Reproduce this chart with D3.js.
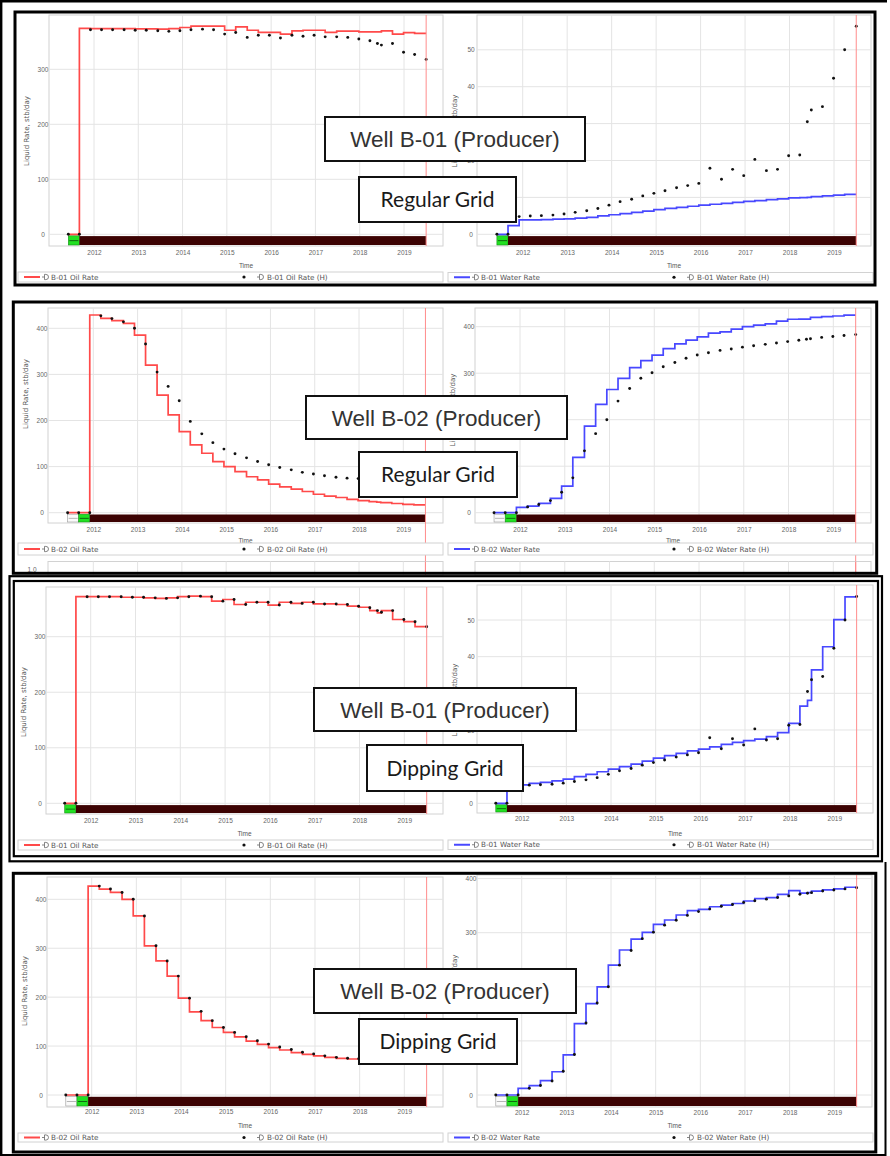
<!DOCTYPE html>
<html><head><meta charset="utf-8">
<script src="https://cdn.jsdelivr.net/npm/d3@7"></script>
<style>body{margin:0;background:#fff}svg{display:block}</style>
</head><body>
<svg id="c" width="890" height="1156"></svg>
<script>
// ---------------- DATA ----------------
// report times (decimal years), quarterly, with one extra history date in 2018
const T = [2011.42, 2011.67, 2011.92, 2012.17, 2012.42, 2012.68, 2012.93, 2013.18, 2013.44, 2013.69,
  2013.94, 2014.19, 2014.45, 2014.70, 2014.95, 2015.20, 2015.46, 2015.71, 2015.96, 2016.21,
  2016.47, 2016.72, 2016.97, 2017.22, 2017.48, 2017.73, 2017.98, 2018.23, 2018.40, 2018.49,
  2018.74, 2018.99, 2019.24, 2019.50];
const years = [2012, 2013, 2014, 2015, 2016, 2017, 2018, 2019];

// Well B-01
const oilH1   = [0,0,372,372,372,372,371,371,370,369,370,372,373,372,364,367,358,362,362,357,362,360,362,359,359,358,355,352,347,344,347,331,327,318];
const oilReg1 = [0,0,374.5,374,374,374,374,373.5,373.5,373,374,376,378.5,378.5,378.5,371,377,371,367,367,364,370,371,371,367,369.5,369.5,368,368,368,370,364,366.5,365.5];
const oilDip1 = [0,0,372,372,372,372,371,371,370,369,370,372,373,372,364,367,358,362,362,357,362,360,362,359,359,358,355,353,347,343,347,331,327,318];
const watH1   = [0,0,4.8,4.95,5.05,5.2,5.5,5.95,6.4,7.0,7.9,8.85,9.5,10.4,11.1,11.8,12.6,13.2,13.8,17.9,14.9,17.6,15.9,20.3,17.25,17.6,21.3,21.5,30.5,33.7,34.6,42.3,50.0,56.4];
const watReg1 = [0,0,2.34,3.9,3.9,4.0,4.1,4.2,4.4,4.6,5.0,5.3,5.6,5.95,6.3,6.7,7.0,7.3,7.6,7.9,8.15,8.4,8.65,8.9,9.15,9.4,9.6,9.85,9.95,10.0,10.2,10.4,10.6,10.8];
const watDip1 = [0,0,5.0,5.0,5.45,5.7,6.1,6.6,7.3,7.9,8.6,9.3,10.0,10.7,11.5,12.3,13.0,13.6,14.3,14.8,15.4,16.1,16.6,17.1,17.5,18.2,19.3,21.8,26.5,28.1,36.4,42.7,50.1,56.3];

// Well B-02
const oilH2   = [0,0,0,427,421,414,400,366,305,274,243,198,171,152,138,128,119,111,104,98,93,87.5,84,80,77,75,74,73,72.5,72,71,70,69,68];
const oilReg2 = [0,0,0,428.8,421.5,416.5,410.7,385,320,255,212,176,147,129,111,100,89,78,71,62,56,51,46,40,36,33,29,26,24,23,22,20,18,17];
const oilDip2 = [0,0,0,427,421,414,400,366,305,274,243,198,170,152,138,128,119,110,103.5,97,92,86.5,83,80,77,75,73.6,73,72,71,70,69,68,67];
const watH2   = [0,0,0,12.5,17.5,26,44,75,133,170,200,240,267,289,301,314,323,332,339,344,349,352,356,359,362,365,368,371,373,374,377,379,381,383];
const watReg2 = [0,0,0,11.5,14.3,20,30.8,57,119,186,233,265,289,312,327,339,353,363,371,378,386,389,395,400,403.6,406,412,416,416.5,416.5,420,421.5,423,425];
const watDip2 = [0,0,0,12.3,17.3,26.5,43,74,132,169,200,240,268,288,300.7,315.5,323.5,332.7,340.7,343,348,351,354,358.6,363,365,371,377.7,373,374,377,379,381,384];

const oilTicks = [0, 100, 200, 300];
const oilTicks4 = [0, 100, 200, 300, 400];
const watTicks1 = [0, 10, 20, 30, 40, 50];

const wellTitles = ['Well B-01 (Producer)', 'Well B-02 (Producer)', 'Well B-01 (Producer)', 'Well B-02 (Producer)'];
const gridTitles = ['Regular Grid', 'Regular Grid', 'Dipping Grid', 'Dipping Grid'];
const yTitle = 'Liquid Rate, stb/day';
const yTitleHead = 'Li', yTitleTail = 'stb/day';

// ---------------- LAYOUT ----------------
const layouts = [
  {plot:[49,15,443,246],   xr:[94,404],     yc:[0,234.3,300,69.3],  tickY:253,   timeY:265.5, leg:[18,272,443,282],    titleY:131},
  {plot:[477,15,871,246],  xr:[522.7,834],  yc:[0,234.3,50,49.8],   tickY:252.5, timeY:265.5, leg:[448,272.5,873,282], titleY:131, head:true},
  {plot:[48,308,443,523],  xr:[93.3,403.3], yc:[0,512.7,400,328.3], tickY:530,   timeY:540.7, leg:[18,543,443,555],    titleY:394},
  {plot:[475,308,871,523], xr:[520,833.3],  yc:[0,512.7,400,326.7], tickY:530,   timeY:540.7, leg:[448,543,873,555],   titleY:410, head:true},
  {plot:[46,587,443,814],  xr:[90.7,404.3], yc:[0,803.3,300,636.7], tickY:821,   timeY:833.3, leg:[18,840,443,850],    titleY:702},
  {plot:[477,585,873,813], xr:[521.7,834.3],yc:[0,803.3,50,620],    tickY:819,   timeY:833.3, leg:[448,840,873,849.5], titleY:700, head:true},
  {plot:[47,877,443,1107], xr:[91.7,404.3], yc:[0,1095,400,899.3],  tickY:1112,  timeY:1125.7,leg:[18,1133,443,1142],   titleY:991},
  {plot:[477,875,872,1107],xr:[521.7,834.3],yc:[0,1095,300,932.7],  tickY:1112.3,timeY:1125.7,leg:[448,1133,873,1142],  titleY:991, head:false}
];
const RED = '#ff4a4a', BLUE = '#4848ff';
const charts = [
  {L:layouts[0], sim:oilReg1, hist:oilH1, ticks:oilTicks,  color:RED,  name:'B-01 Oil Rate',   start:1, right:false},
  {L:layouts[1], sim:watReg1, hist:watH1, ticks:watTicks1, color:BLUE, name:'B-01 Water Rate', start:1, right:true},
  {L:layouts[2], sim:oilReg2, hist:oilH2, ticks:oilTicks4, color:RED,  name:'B-02 Oil Rate',   start:2, right:false, peek:true},
  {L:layouts[3], sim:watReg2, hist:watH2, ticks:oilTicks4, color:BLUE, name:'B-02 Water Rate', start:2, right:true, peek:true},
  {L:layouts[4], sim:oilDip1, hist:oilH1, ticks:oilTicks,  color:RED,  name:'B-01 Oil Rate',   start:1, right:false},
  {L:layouts[5], sim:watDip1, hist:watH1, ticks:watTicks1, color:BLUE, name:'B-01 Water Rate', start:1, right:true},
  {L:layouts[6], sim:oilDip2, hist:oilH2, ticks:oilTicks4, color:RED,  name:'B-02 Oil Rate',   start:2, right:false},
  {L:layouts[7], sim:watDip2, hist:watH2, ticks:oilTicks4, color:BLUE, name:'B-02 Water Rate', start:2, right:true}
];
const noteBoxes = [
  {w:[325,117,260,44], s:[359,177,157,45]},
  {w:[306,396,261,43], s:[359,452,158,45]},
  {w:[314,688,262,43], s:[367,745,156,46]},
  {w:[314,969,262,44], s:[359,1019,158,45]}
];
const allBoxes = noteBoxes.flatMap(b => [b.w, b.s]);
function hiddenByBox(px, py) {
  return allBoxes.some(r => px > r[0] && px < r[0]+r[2] && py > r[1]+2 && py < r[1]+r[3]-2);
}

const FONT = 'Liberation Sans, Arial, sans-serif';
const FONT2 = 'DejaVu Sans, Verdana, sans-serif';
const svg = d3.select('#c');
const defs = svg.append('defs');
svg.append('rect').attr('width',890).attr('height',1156).attr('fill','#fff');

function icon(g, ix, cy) {
  g.append('line').attr('x1',ix).attr('x2',ix+2.5).attr('y1',cy).attr('y2',cy).attr('stroke','#666').attr('stroke-width',0.8);
  g.append('path').attr('d',`M${ix+2.5},${cy-2.6}h1.4a2.6,2.6 0 0 1 0,5.2h-1.4z`).attr('fill','none').attr('stroke','#666').attr('stroke-width',0.8);
}

charts.forEach((c, i) => {
  const L = c.L;
  const [px0, py0, px1, py1] = L.plot;
  const x = d3.scaleLinear().domain([2012, 2019]).range(L.xr);
  const y = d3.scaleLinear().domain([L.yc[0], L.yc[2]]).range([L.yc[1], L.yc[3]]);
  const g = svg.append('g');
  defs.append('clipPath').attr('id','cl'+i).append('rect')
    .attr('x',px0).attr('y',py0).attr('width',px1-px0).attr('height',py1-py0);

  g.append('rect').attr('x',px0).attr('y',py0).attr('width',px1-px0).attr('height',py1-py0)
    .attr('fill','#fff').attr('stroke','#d2d2d2').attr('stroke-width',1);
  g.append('g').selectAll('line').data(years).join('line')
    .attr('x1',d=>x(d)).attr('x2',d=>x(d)).attr('y1',py0).attr('y2',py1)
    .attr('stroke','#e4e4e4').attr('stroke-width',1);
  g.append('g').selectAll('line').data(c.ticks).join('line')
    .attr('x1',px0).attr('x2',px1).attr('y1',d=>y(d)).attr('y2',d=>y(d))
    .attr('stroke','#e4e4e4').attr('stroke-width',1);

  const pg = g.append('g').attr('clip-path',`url(#cl${i})`);
  const y0 = y(0);
  const tEnd = T[T.length-1];
  if (c.start === 2) {
    pg.append('rect').attr('x',x(T[0])).attr('y',y0+1.5).attr('width',x(T[1])-x(T[0])).attr('height',py1-y0-2.5)
      .attr('fill','#fafafa').attr('stroke','#999').attr('stroke-width',0.6);
    pg.append('line').attr('x1',x(T[0])+1).attr('x2',x(T[1])-1).attr('y1',(y0+py1)/2+0.5).attr('y2',(y0+py1)/2+0.5)
      .attr('stroke','#888').attr('stroke-width',0.6);
  }
  pg.append('rect').attr('x',x(T[c.start-1])).attr('y',y0+1.5).attr('width',x(T[c.start])-x(T[c.start-1])).attr('height',py1-y0-2.5)
    .attr('fill','#22e022').attr('stroke','#159015').attr('stroke-width',0.6);
  pg.append('line').attr('x1',x(T[c.start-1])+1).attr('x2',x(T[c.start])-1).attr('y1',(y0+py1)/2+0.5).attr('y2',(y0+py1)/2+0.5)
    .attr('stroke','#0a4a0a').attr('stroke-width',0.8);
  pg.append('rect').attr('x',x(T[c.start])).attr('y',y0+1.8).attr('width',x(tEnd)-x(T[c.start])).attr('height',py1-y0-2.8)
    .attr('fill','#3c0202');

  const simData = T.map((t,j)=>({t, v:c.sim[j]}));
  const histData = T.map((t,j)=>({t, v:c.hist[j]}));
  pg.append('path').datum(simData)
    .attr('d', d3.line().x(d=>x(d.t)).y(d=>y(d.v)).curve(d3.curveStepBefore))
    .attr('fill','none').attr('stroke',c.color).attr('stroke-width',1.7);
  pg.append('g').selectAll('circle').data(histData).join('circle')
    .attr('cx',d=>x(d.t)).attr('cy',d=>y(d.v)).attr('r',1.45).attr('fill','#111');

  const endBottom = c.peek ? 573 : py1;
  g.append('line').attr('x1',x(tEnd)).attr('x2',x(tEnd)).attr('y1',py0).attr('y2',endBottom)
    .attr('stroke','#ff8c8c').attr('stroke-width',1);

  // peeking chart strip (next chart cut off below)
  if (c.peek) {
    const sg = g.append('g');
    sg.append('rect').attr('x',px0).attr('y',561.5).attr('width',px1-px0).attr('height',14)
      .attr('fill','none').attr('stroke','#d2d2d2');
    sg.selectAll('line.pk').data(years).join('line').attr('class','pk')
      .attr('x1',d=>x(d)).attr('x2',d=>x(d)).attr('y1',561.5).attr('y2',575)
      .attr('stroke','#e4e4e4');
    sg.append('line').attr('x1',x(tEnd)).attr('x2',x(tEnd)).attr('y1',561.5).attr('y2',575)
      .attr('stroke','#ff8c8c');
    if (!c.right) sg.append('text').attr('x',px0-16).attr('y',572).attr('text-anchor','middle')
      .attr('font-family',FONT).attr('font-size',6.5).attr('fill','#666').text('1.0');
  }

  // axes (labels only)
  const ax = g.append('g').attr('transform',`translate(0,${L.tickY-2.3})`)
    .call(d3.axisBottom(x).tickValues(years).tickFormat(d3.format('d')).tickSize(0).tickPadding(0));
  ax.select('.domain').remove();
  ax.selectAll('text').attr('font-family',FONT).attr('font-size',6.5).attr('fill','#666');
  const shownTicks = c.ticks.filter(v => !hiddenByBox(px0-6, y(v)));
  const ay = g.append('g').attr('transform',`translate(${px0-6},0)`)
    .call(d3.axisLeft(y).tickValues(shownTicks).tickFormat(d3.format('d')).tickSize(0).tickPadding(0));
  ay.select('.domain').remove();
  ay.selectAll('text').attr('text-anchor','middle').attr('font-family',FONT).attr('font-size',6.5).attr('fill','#666');

  g.append('text').attr('x',(px0+px1)/2).attr('y',L.timeY).attr('dy','0.35em').attr('text-anchor','middle')
    .attr('font-family',FONT).attr('font-size',6.5).attr('fill','#555').text('Time');

  // y-axis title; on the right-hand charts only the ends peek out around the note boxes
  const tx = px0 - 22, tLen = 73;
  if (!c.right) {
    g.append('text').attr('transform',`translate(${tx},${L.titleY}) rotate(-90)`).attr('dy','0.35em')
      .attr('text-anchor','middle').attr('font-family',FONT2).attr('font-size',7).attr('fill','#555')
      .text(yTitle);
  } else {
    g.append('text').attr('transform',`translate(${tx},${L.titleY - tLen/2}) rotate(-90)`).attr('dy','0.35em')
      .attr('text-anchor','end').attr('font-family',FONT2).attr('font-size',7).attr('fill','#555')
      .text(yTitleTail);
    if (L.head) g.append('text').attr('transform',`translate(${tx},${L.titleY + tLen/2}) rotate(-90)`).attr('dy','0.35em')
      .attr('text-anchor','start').attr('font-family',FONT2).attr('font-size',7).attr('fill','#555')
      .text(yTitleHead);
  }

  // legend
  const [lx0, ly0, lx1, ly1] = L.leg;
  const cy = (ly0+ly1)/2;
  const lg = g.append('g');
  lg.append('rect').attr('x',lx0).attr('y',ly0).attr('width',lx1-lx0).attr('height',ly1-ly0)
    .attr('fill','#fff').attr('stroke','#d2d2d2');
  lg.append('line').attr('x1',lx0+6).attr('x2',lx0+22).attr('y1',cy).attr('y2',cy)
    .attr('stroke',c.color).attr('stroke-width',2);
  icon(lg, lx0+24, cy);
  lg.append('text').attr('x',lx0+33).attr('y',cy).attr('dy','0.35em').attr('font-family',FONT2)
    .attr('font-size',7.2).attr('fill','#555').text(c.name);
  lg.append('circle').attr('cx',lx0+226).attr('cy',cy).attr('r',1.6).attr('fill','#111');
  icon(lg, lx0+239, cy);
  lg.append('text').attr('x',lx0+249).attr('y',cy).attr('dy','0.35em').attr('font-family',FONT2)
    .attr('font-size',7.2).attr('fill','#555').text(c.name + ' (H)');
});

// annotation boxes
noteBoxes.forEach((b, i) => {
  const g = svg.append('g');
  g.append('rect').attr('x',b.w[0]).attr('y',b.w[1]).attr('width',b.w[2]).attr('height',b.w[3])
    .attr('fill','#fff').attr('stroke','#111').attr('stroke-width',2);
  g.append('text').attr('x',b.w[0]+b.w[2]/2).attr('y',b.w[1]+b.w[3]/2).attr('dy','0.36em')
    .attr('text-anchor','middle').attr('font-family',FONT).attr('font-size',22.5).attr('fill','#333')
    .text(wellTitles[i]);
  g.append('rect').attr('x',b.s[0]).attr('y',b.s[1]).attr('width',b.s[2]).attr('height',b.s[3])
    .attr('fill','#fff').attr('stroke','#111').attr('stroke-width',2);
  g.append('text').attr('x',b.s[0]+b.s[2]/2).attr('y',b.s[1]+b.s[3]/2).attr('dy','0.36em')
    .attr('text-anchor','middle').attr('font-family','Lato, sans-serif').attr('font-size',21).attr('fill','#1a1a1a')
    .text(gridTitles[i]);
});

// panel frames
const fr = svg.append('g').attr('fill','none').attr('stroke','#000');
fr.append('rect').attr('x',15).attr('y',12).attr('width',860).attr('height',273).attr('stroke-width',3);
fr.append('rect').attr('x',13.3).attr('y',302).attr('width',863.4).attr('height',271.3).attr('stroke-width',3);
fr.append('rect').attr('x',9.5).attr('y',576.2).attr('width',872.5).attr('height',285.1).attr('stroke-width',2.2);
fr.append('rect').attr('x',13.8).attr('y',581).attr('width',864.2).attr('height',275.2).attr('stroke-width',2.2);
fr.append('rect').attr('x',13.3).attr('y',873.3).attr('width',862.5).attr('height',278.7).attr('stroke-width',3);
// outer image frame
fr.append('line').attr('x1',0).attr('x2',887).attr('y1',1.2).attr('y2',1.2).attr('stroke-width',2.4);
fr.append('line').attr('x1',1.2).attr('x2',1.2).attr('y1',0).attr('y2',1156).attr('stroke-width',2.4);
fr.append('line').attr('x1',885.5).attr('x2',885.5).attr('y1',862).attr('y2',1156).attr('stroke-width',2);
fr.append('line').attr('x1',0).attr('x2',886).attr('y1',1155).attr('y2',1155).attr('stroke-width',2);
</script>
</body></html>
